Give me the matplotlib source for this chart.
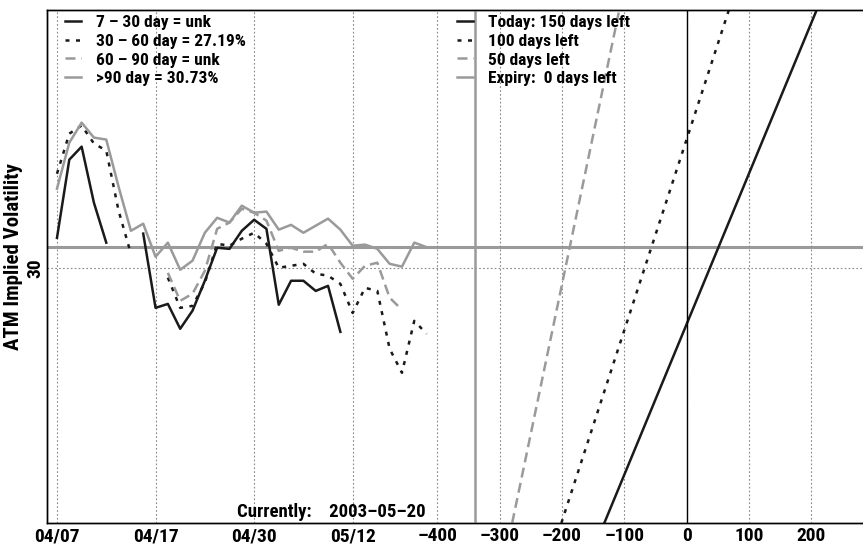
import numpy as np
import matplotlib
matplotlib.use('Agg')
import matplotlib.pyplot as plt
import matplotlib.font_manager as fm

nan = np.nan

# trading-day index 0..30 (04/07 .. 05/20)
days = np.arange(31)
date_ticks = [0, 8, 16, 24]
date_labels = ['04/07', '04/17', '04/30', '05/12']

vol_7_30 = [31.06, 33.83, 34.29, 32.30, 30.89, nan, nan, 31.21, 28.58, 28.72,
            27.84, 28.48, 29.54, 30.71, 30.67, 31.31, 31.70, 31.38, 28.69, 29.54,
            29.54, 29.18, 29.36, 27.73, nan, nan, nan, nan, nan, nan, nan]
vol_30_60 = [33.33, 34.75, 35.04, 34.40, 34.15, 32.02, 30.50, nan, nan, 29.65,
             28.58, 28.65, 29.47, 30.85, 30.78, 31.03, 31.24, 30.85, 30.00, 30.07,
             30.14, 29.79, 29.72, 29.43, 28.40, 29.29, 29.18, 27.13, 26.28, 28.12,
             27.66]
vol_60_90 = [nan, nan, nan, nan, nan, nan, nan, nan, nan, 29.82,
             28.83, 29.08, 29.89, 31.38, 31.60, 32.09, 31.95, 31.67, 30.60, 30.71,
             30.57, 30.57, 30.85, 30.18, 29.61, 30.07, 30.18, 28.94, 28.51, nan,
             nan]
vol_90 = [32.80, 34.43, 35.14, 34.61, 34.54, 32.87, 31.31, 31.56, 30.39, 30.89,
          29.93, 30.25, 31.24, 31.77, 31.60, 32.20, 31.95, 31.99, 31.35, 31.52,
          31.24, 31.49, 31.74, 31.35, 30.78, 30.82, 30.67, 30.14, 30.04, 30.89,
          30.73]
current_vol = 30.73

labels_left = ['7 – 30 day = unk', '30 – 60 day = 27.19%',
               '60 – 90 day = unk', '>90 day = 30.73%']

# right panel lines (x at bottom / top of the y range)
line_y = [20.96, 39.13]
today_x = [-132, 209]
d100_x = [-201, 68]
d50_x = [-280, -108]
expiry_x = -339
labels_right = ['Today: 150 days left', '100 days left', '50 days left',
                'Expiry:  0 days left']
right_ticks = [-400, -300, -200, -100, 0, 100, 200]

# condensed bold face if one is there, else plain sans a bit smaller
installed = {f.name for f in fm.fontManager.ttflist}
narrow = [n for n in ['Liberation Sans Narrow', 'Roboto Condensed',
                      'Open Sans Condensed', 'Arial Narrow'] if n in installed]
if narrow:
    family, k = narrow[0], 1.0
else:
    family, k = 'Liberation Sans', 0.8
plt.rcParams['font.family'] = [family, 'DejaVu Sans']
plt.rcParams['font.weight'] = 'bold'

black = '#1a1a1a'
gray = '#9a9a9a'
dot = (0, (1.6, 2.6))
dash = (0, (4, 2.2))

fig = plt.figure(figsize=(8.63, 5.45), dpi=100)
ax = fig.add_axes([47/863, 22/545, 817/863, 513/545])
ax2 = ax.twiny()

l1, = ax.plot(days, vol_7_30, color=black, lw=1.8, zorder=3)
l2, = ax.plot(days, vol_30_60, color=black, lw=1.8, ls=dot, zorder=3)
l3, = ax.plot(days, vol_60_90, color=gray, lw=1.8, ls=dash, zorder=3)
l4, = ax.plot(days, vol_90, color=gray, lw=1.8, zorder=3)
ax.axhline(current_vol, color=gray, lw=2.2, zorder=2)

r1, = ax2.plot(today_x, line_y, color=black, lw=1.8)
r2, = ax2.plot(d100_x, line_y, color=black, lw=1.8, ls=dot)
r3, = ax2.plot(d50_x, line_y, color=gray, lw=1.8, ls=dash)
r4 = ax2.axvline(expiry_x, color=gray, lw=1.8)
ax2.axvline(0, color='black', lw=1)

ax.set_xlim(-0.81, 65.5)
ax2.set_xlim(-1027, 285)
ax.set_ylim(line_y)

ax.set_xticks(date_ticks)
ax.set_xticklabels(date_labels)
ax2.set_xticks(right_ticks)
ax2.set_xticklabels([str(t).replace('-', '–') for t in right_ticks])
ax2.xaxis.set_ticks_position('bottom')
ax2.xaxis.set_label_position('bottom')
ax.set_yticks([30])
ax.set_yticklabels(['30'], rotation=90, va='center')

for a in (ax, ax2):
    a.tick_params(length=0, labelsize=14 * k, pad=3)
    a.grid(axis='x', ls=(0, (1.5, 2)), color='#888888', lw=0.8)
    for s in a.spines.values():
        s.set_linewidth(1)
ax.grid(axis='y', ls=(0, (1.5, 2)), color='#888888', lw=0.8)
ax.tick_params(axis='y', pad=2)
ax.set_ylabel('ATM Implied Volatility', fontsize=15 * k, fontweight='bold')
ax.yaxis.set_label_coords(-0.029, 0.52)

leg_kw = dict(loc='upper left', frameon=False, fontsize=12.5 * k,
              handlelength=0.9, handletextpad=0.9, labelspacing=0.2,
              borderpad=0, borderaxespad=0)
ax.legend([l1, l2, l3, l4], labels_left, bbox_to_anchor=(18/817, 0.99),
          **leg_kw)
ax2.legend([r1, r2, r3, r4], labels_right, bbox_to_anchor=(410/817, 0.99),
           **leg_kw)

ax.text(190/817, 0.004, 'Currently:    2003–05–20', transform=ax.transAxes,
        fontsize=13.5 * k, va='bottom', ha='left')

fig.savefig('out.png', dpi=100)
